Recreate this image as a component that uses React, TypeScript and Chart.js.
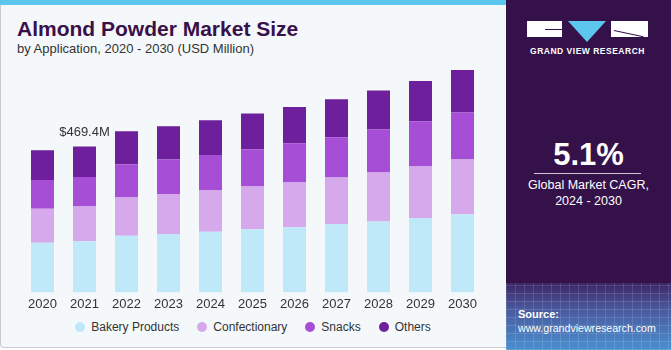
import React, { useEffect, useRef } from "react";
import { Chart, registerables } from "chart.js";

Chart.register(...registerables);

const years = ["2020", "2021", "2022", "2023", "2024", "2025", "2026", "2027", "2028", "2029", "2030"];
const bakery = [160.1, 164.3, 182.7, 187.8, 195.6, 203.0, 209.4, 219.1, 227.8, 239.4, 251.3];
const confectionary = [109.5, 111.8, 122.4, 128.9, 132.1, 137.6, 144.0, 150.5, 157.9, 165.6, 176.2];
const snacks = [92.2, 95.4, 107.3, 110.8, 114.7, 120.2, 126.6, 129.9, 138.5, 146.0, 151.4];
const others = [95.7, 97.9, 106.3, 107.3, 111.8, 115.0, 117.0, 122.4, 125.7, 129.8, 137.3];
const seriesNames = ["Bakery Products", "Confectionary", "Snacks", "Others"];
const seriesColors = ["#BFE9F8", "#D5A9EC", "#A64FD6", "#6E1F9B"];
const labelIndex = 1;

const FONT = "'Liberation Sans', Arial, sans-serif";

export default function App() {
  const ref = useRef<HTMLCanvasElement | null>(null);

  useEffect(() => {
    document.body.style.margin = "0";
    const canvas = ref.current;
    if (!canvas) return;
    const series = [bakery, confectionary, snacks, others];
    const labelPlugin = {
      id: "totalLabel",
      afterDatasetsDraw(chart: any) {
        const { ctx, scales } = chart;
        const total = series.reduce((s, arr) => s + arr[labelIndex], 0);
        const x = scales.x.getPixelForValue(labelIndex);
        const y = scales.y.getPixelForValue(total);
        ctx.save();
        ctx.font = `13px ${FONT}`;
        ctx.fillStyle = "#333333";
        ctx.textAlign = "center";
        ctx.textBaseline = "middle";
        ctx.fillText(`$${total.toFixed(1)}M`, x, y - 14);
        ctx.restore();
      },
    };
    const chart = new Chart(canvas, {
      type: "bar",
      data: {
        labels: years,
        datasets: series.map((d, i) => ({
          label: seriesNames[i],
          data: d,
          backgroundColor: seriesColors[i],
          borderWidth: 0,
          barPercentage: 0.548,
          categoryPercentage: 1,
        })),
      },
      options: {
        animation: false,
        responsive: true,
        maintainAspectRatio: false,
        layout: { padding: { top: 10, left: 21.5, right: 22.5, bottom: 3 } },
        scales: {
          x: {
            stacked: true,
            grid: { display: false, drawTicks: false },
            border: { display: false },
            ticks: { color: "#333333", font: { family: FONT, size: 13 }, padding: 4 },
          },
          y: {
            stacked: true,
            display: false,
            min: 0,
            max: 748,
          },
        },
        plugins: {
          legend: { display: false },
          tooltip: { enabled: false },
        },
      },
      plugins: [labelPlugin],
    });
    return () => chart.destroy();
  }, []);

  return (
    <div style={{ position: "relative", width: 671, height: 350, overflow: "hidden", fontFamily: FONT, background: "#ffffff" }}>
      <div
        style={{
          position: "absolute",
          left: 0,
          top: 0,
          width: 506,
          height: 348,
          background: "#F4F8FB",
          borderLeft: "1.5px solid #c9cccf",
          borderBottom: "1.5px solid #c9cccf",
          borderBottomLeftRadius: 4,
          boxSizing: "border-box",
        }}
      />
      <div style={{ position: "absolute", left: 0, top: 0, width: 506, height: 5, background: "#5CC6EE" }} />
      <div style={{ position: "absolute", left: 17, top: 17, fontSize: 21, fontWeight: 700, color: "#3A1049", letterSpacing: 0 }}>
        Almond Powder Market Size
      </div>
      <div style={{ position: "absolute", left: 17, top: 41, fontSize: 13, color: "#333333" }}>
        by Application, 2020 - 2030 (USD Million)
      </div>
      <div style={{ position: "absolute", left: 0, top: 50, width: 506, height: 269 }}>
        <canvas ref={ref} />
      </div>
      <div
        style={{
          position: "absolute",
          left: 0,
          top: 319,
          width: 506,
          display: "flex",
          justifyContent: "center",
          alignItems: "center",
          gap: 18,
          fontSize: 12,
          color: "#333333",
          whiteSpace: "nowrap",
        }}
      >
        {seriesNames.map((name, i) => (
          <div key={name} style={{ display: "flex", alignItems: "center", gap: 6 }}>
            <span style={{ width: 10, height: 10, borderRadius: 5, background: seriesColors[i], display: "inline-block" }} />
            <span style={{ lineHeight: "16px" }}>{name}</span>
          </div>
        ))}
      </div>
      <div
        style={{
          position: "absolute",
          left: 506,
          top: 0,
          width: 165,
          height: 350,
          background: "#35114A",
        }}
      />
      <div
        style={{
          position: "absolute",
          left: 506,
          top: 283,
          width: 165,
          height: 67,
          background:
            "repeating-linear-gradient(90deg, rgba(255,255,255,0.12) 0px, rgba(255,255,255,0.12) 1px, transparent 1px, transparent 9px), repeating-linear-gradient(0deg, rgba(255,255,255,0.12) 0px, rgba(255,255,255,0.12) 1px, transparent 1px, transparent 8px), linear-gradient(180deg, #3C2666 0%, #4A5A9E 40%, #4A90D0 100%)",
        }}
      />
      {/* logo */}
      <div style={{ position: "absolute", left: 527, top: 21, width: 35, height: 16, background: "#ffffff" }} />
      <div style={{ position: "absolute", left: 545, top: 29, width: 17, height: 1, background: "#35114A" }} />
      <div
        style={{
          position: "absolute",
          left: 568,
          top: 21,
          width: 0,
          height: 0,
          borderLeft: "19.5px solid transparent",
          borderRight: "19.5px solid transparent",
          borderTop: "21px solid #5CC6EE",
        }}
      />
      <div style={{ position: "absolute", left: 611, top: 21, width: 37, height: 16, background: "#ffffff" }} />
      <div
        style={{
          position: "absolute",
          left: 614,
          top: 30,
          width: 30,
          height: 1,
          background: "#35114A",
          transform: "rotate(12deg)",
          transformOrigin: "left center",
        }}
      />
      <div
        style={{
          position: "absolute",
          left: 520,
          top: 46,
          width: 135,
          textAlign: "center",
          fontSize: 8.5,
          fontWeight: 700,
          color: "#ffffff",
          letterSpacing: 0.5,
          whiteSpace: "nowrap",
        }}
      >
        GRAND VIEW RESEARCH
      </div>
      <div
        style={{
          position: "absolute",
          left: 506,
          top: 137,
          width: 165,
          textAlign: "center",
          fontSize: 31,
          fontWeight: 700,
          color: "#ffffff",
        }}
      >
        5.1%
      </div>
      <div style={{ position: "absolute", left: 534, top: 173, width: 107, height: 1, background: "#cfc6d8" }} />
      <div
        style={{
          position: "absolute",
          left: 506,
          top: 177,
          width: 165,
          textAlign: "center",
          fontSize: 12.5,
          lineHeight: "16px",
          color: "#ffffff",
        }}
      >
        Global Market CAGR,
        <br />
        2024 - 2030
      </div>
      <div style={{ position: "absolute", left: 518, top: 308, fontSize: 11, fontWeight: 700, color: "#ffffff" }}>Source:</div>
      <div style={{ position: "absolute", left: 518, top: 322, fontSize: 10.6, color: "#ffffff", whiteSpace: "nowrap" }}>
        www.grandviewresearch.com
      </div>
    </div>
  );
}
